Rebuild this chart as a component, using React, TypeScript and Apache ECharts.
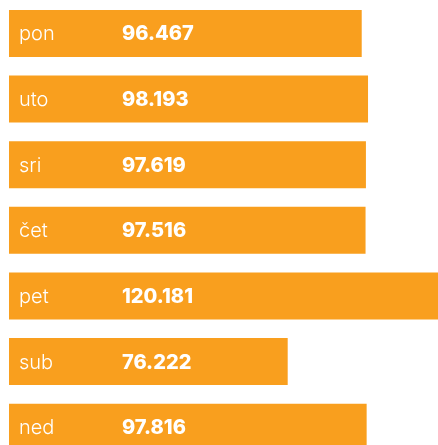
import React, { useEffect, useRef } from "react";
import * as echarts from "echarts";

const days = ["pon", "uto", "sri", "čet", "pet", "sub", "ned"];
const visits = [96467, 98193, 97619, 97516, 120181, 76222, 97816];

const fmt = (n: number) => String(n).replace(/\B(?=(\d{3})+(?!\d))/g, ".");

export default function App() {
  const ref = useRef<HTMLDivElement>(null);
  useEffect(() => {
    if (!ref.current) return;
    const chart = echarts.init(ref.current, null, { renderer: "svg" });
    chart.setOption({
      animation: false,
      grid: { left: 9, right: 0, top: 0.67, bottom: 0, containLabel: false },
      xAxis: { type: "value", min: 0, max: 117330, show: false },
      yAxis: {
        type: "category",
        data: days,
        inverse: true,
        show: false,
      },
      series: [
        {
          type: "bar",
          data: visits,
          barWidth: 47,
          itemStyle: { color: "#F99F1E" },
          label: {
            show: true,
            position: "insideLeft",
            distance: 10,
            formatter: (p: any) => `{d|${p.name}}{v|${fmt(p.value)}}`,
            rich: {
              d: {
                width: 103,
                fontFamily: "Inter",
                fontWeight: 300,
                fontSize: 20,
                color: "#ffffff",
              },
              v: {
                fontFamily: "Inter",
                fontWeight: 800,
                fontSize: 20,
                color: "#ffffff",
              },
            },
          },
        },
      ],
    });
    return () => chart.dispose();
  }, []);
  return (
    <div
      ref={ref}
      style={{ position: "fixed", left: 0, top: 0, width: 438, height: 460 }}
    />
  );
}
